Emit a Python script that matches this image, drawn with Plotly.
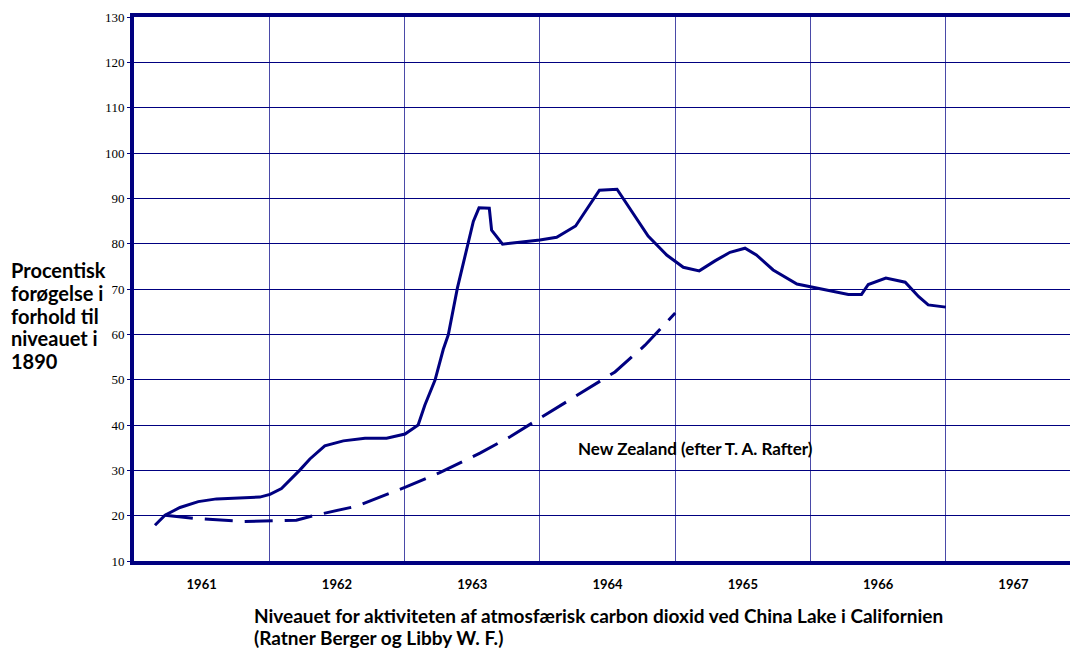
import plotly.graph_objects as go

# Solid series: China Lake (x in fractional years, y in percent)
china_x = [1961.155, 1961.229, 1961.34, 1961.475, 1961.61, 1961.857, 1961.93, 1962.005, 1962.09,
           1962.227, 1962.30, 1962.41, 1962.547, 1962.707, 1962.867, 1963.003, 1963.10, 1963.15,
           1963.225, 1963.286, 1963.323, 1963.39, 1963.47, 1963.508, 1963.55, 1963.626, 1963.643,
           1963.724, 1964.0, 1964.124, 1964.264, 1964.333, 1964.44, 1964.57, 1964.69, 1964.80,
           1964.937, 1965.06, 1965.178, 1965.294, 1965.405, 1965.516, 1965.60, 1965.724, 1965.90,
           1966.008, 1966.144, 1966.28, 1966.377, 1966.427, 1966.557, 1966.70, 1966.80, 1966.87,
           1967.0]
china_y = [17.9, 20.1, 21.8, 23.1, 23.7, 24.1, 24.1, 24.7, 26.0,
           30.1, 32.5, 35.4, 36.5, 37.1, 37.1, 38.0, 40.0, 44.4,
           49.9, 56.7, 59.9, 70.2, 80.4, 84.9, 87.9, 87.8, 83.0,
           79.9, 80.8, 81.4, 83.9, 87.1, 91.8, 92.0, 86.7, 81.7,
           77.5, 74.8, 74.0, 76.2, 78.1, 79.0, 77.5, 74.2, 71.1,
           70.4, 69.6, 68.8, 68.8, 71.0, 72.4, 71.5, 68.3, 66.5,
           66.0]

# Dashed series: New Zealand
nz_x = [1961.229, 1961.44, 1961.81, 1962.20, 1962.325, 1962.646, 1963.015, 1963.26,
        1963.557, 1963.78, 1964.0, 1964.26, 1964.555, 1964.777, 1965.0]
nz_y = [20.1, 19.4, 18.7, 19.0, 20.0, 22.1, 26.4, 29.5,
        33.8, 37.4, 41.5, 46.2, 51.7, 57.6, 64.7]

years = [1961, 1962, 1963, 1964, 1965, 1966, 1967]
year_mid = [y + 0.5 for y in years]
year_labels = [str(y) for y in years]
y_ticks = list(range(10, 131, 10))

ylabel_lines = ["Procentisk", "forøgelse i", "forhold til", "niveauet i", "1890"]
xlabel_lines = ["Niveauet for aktiviteten af atmosfærisk carbon dioxid ved China Lake i Californien",
                "(Ratner Berger og Libby W. F.)"]
nz_label = "New Zealand (efter T. A. Rafter)"

NAVY = "#000080"
BOLD = "Lato, Open Sans, sans-serif"
SERIF = "Times New Roman, Liberation Serif, serif"

fig = go.Figure()
fig.add_trace(go.Scatter(x=china_x, y=china_y, mode="lines",
                         line=dict(color=NAVY, width=3), showlegend=False, hoverinfo="skip"))
fig.add_trace(go.Scatter(x=nz_x, y=nz_y, mode="lines",
                         line=dict(color=NAVY, width=3, dash="28px,12px"), showlegend=False,
                         hoverinfo="skip"))
# invisible trace on second x-axis for year labels
fig.add_trace(go.Scatter(x=year_mid, y=[None] * len(year_mid), xaxis="x2", mode="lines",
                         showlegend=False, hoverinfo="skip"))

W, H = 1070, 648
ML, MT, MB = 134, 17, 87
xr = [1961, 1961 + (W - ML) / 135.3]

fig.update_layout(
    width=W, height=H,
    margin=dict(l=ML, r=0, t=MT, b=MB),
    paper_bgcolor="white", plot_bgcolor="white",
    xaxis=dict(range=xr, tickvals=years[1:], showticklabels=False, showgrid=True,
               gridcolor="#4a4aa8", gridwidth=1, zeroline=False,
               showline=True, linecolor=NAVY, linewidth=4, mirror=True, ticks=""),
    xaxis2=dict(range=xr, overlaying="x", side="bottom", tickvals=year_mid, ticktext=year_labels,
                showgrid=False, zeroline=False, showline=False, ticks="outside", ticklen=11,
                tickcolor="rgba(0,0,0,0)",
                tickfont=dict(family=BOLD, size=13, color="black", weight="bold")),
    yaxis=dict(range=[10, 130], tickvals=y_ticks, showgrid=True, gridcolor=NAVY, gridwidth=1,
               zeroline=False, showline=True, linecolor=NAVY, linewidth=4, ticks="outside",
               ticklen=3, tickcolor=NAVY,
               tickfont=dict(family=SERIF, size=13, color="black")),
)

pw = W - ML
ph = H - MT - MB
def px_x(p):
    return (p - ML) / pw
def px_y(p):
    return (H - MB - p) / ph

ann = []
for i, t in enumerate(ylabel_lines):
    ann.append(dict(text=t, xref="paper", yref="paper", x=px_x(9), y=px_y(270 + 22.8 * i),
                    xanchor="left", yanchor="middle", showarrow=False,
                    font=dict(family=BOLD, size=20, color="black", weight="bold")))
for i, t in enumerate(xlabel_lines):
    ann.append(dict(text=t, xref="paper", yref="paper", x=px_x(252), y=px_y(615 + 22.5 * i),
                    xanchor="left", yanchor="middle", showarrow=False,
                    font=dict(family=BOLD, size=19, color="black", weight="bold")))
ann.append(dict(text=nz_label, xref="paper", yref="paper", x=px_x(576), y=px_y(448),
                xanchor="left", yanchor="middle", showarrow=False,
                font=dict(family=BOLD, size=17, color="black", weight="bold")))
fig.update_layout(annotations=ann)

fig.write_html("out.html", config={"displayModeBar": False},
               post_script="document.body.style.margin='0';document.body.style.overflow='hidden';")
